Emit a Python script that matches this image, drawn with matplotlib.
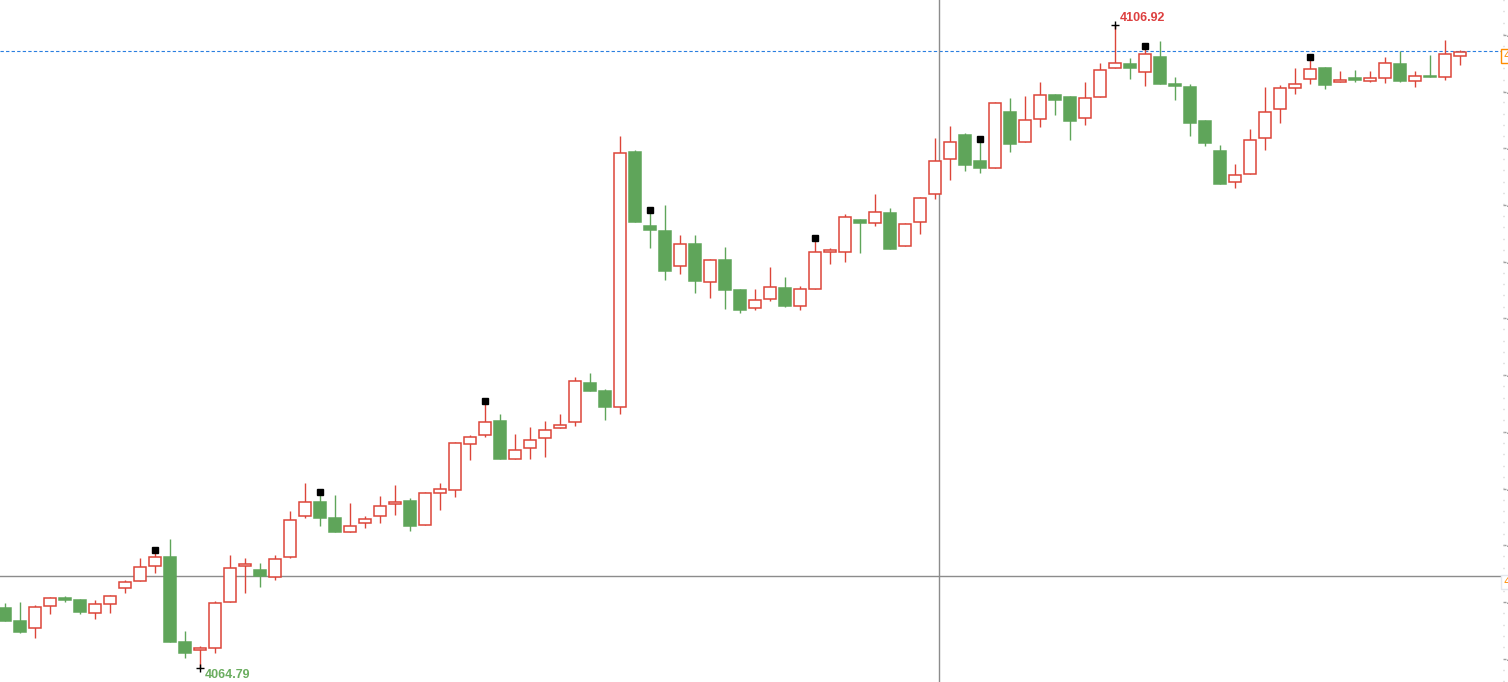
import matplotlib
matplotlib.use('Agg')
import matplotlib.pyplot as plt
from matplotlib.patches import Rectangle
from matplotlib.ticker import FixedLocator, AutoMinorLocator, FormatStrFormatter
from matplotlib.transforms import offset_copy

# OHLC, one entry per bar (left to right)
opens = [4068.72, 4067.87, 4067.41, 4068.85, 4069.38, 4069.25, 4068.39, 4068.98, 4070.03, 4070.49,
         4071.47, 4072.06, 4066.49, 4065.97, 4066.10, 4069.12, 4071.47, 4071.21, 4070.75, 4072.06,
         4074.75, 4075.67, 4074.62, 4073.70, 4074.29, 4074.75, 4075.54, 4075.73, 4074.16, 4076.26,
         4076.45, 4079.47, 4080.06, 4080.97, 4078.48, 4079.21, 4079.86, 4080.52, 4080.91, 4083.46,
         4082.94, 4081.89, 4098.60, 4093.75, 4093.42, 4091.13, 4092.57, 4090.08, 4091.52, 4089.56,
         4088.38, 4088.97, 4089.69, 4088.51, 4089.62, 4092.05, 4092.05, 4094.14, 4093.95, 4094.60,
         4092.44, 4094.01, 4095.85, 4098.14, 4099.71, 4098.01, 4097.55, 4101.22, 4099.25, 4100.76,
         4102.33, 4102.20, 4100.83, 4102.20, 4104.10, 4104.36, 4103.84, 4104.82, 4103.05, 4102.86,
         4100.63, 4098.66, 4096.63, 4097.16, 4099.52, 4101.42, 4102.79, 4103.38, 4104.10, 4103.19,
         4103.45, 4103.25, 4103.45, 4104.36, 4103.25, 4103.58, 4103.51, 4104.89]
highs = [4069.05, 4069.12, 4068.92, 4069.44, 4069.51, 4069.31, 4069.25, 4069.57, 4070.56, 4072.00,
         4072.33, 4073.24, 4067.22, 4066.23, 4069.18, 4072.19, 4072.00, 4071.67, 4072.19, 4075.08,
         4076.91, 4076.13, 4076.13, 4075.60, 4074.75, 4076.06, 4076.78, 4075.93, 4076.32, 4076.91,
         4079.60, 4080.06, 4082.09, 4081.43, 4080.12, 4080.58, 4080.97, 4081.43, 4083.86, 4084.12,
         4083.07, 4099.65, 4098.73, 4094.60, 4095.13, 4093.16, 4093.16, 4091.59, 4092.38, 4089.62,
         4089.62, 4091.06, 4090.41, 4089.82, 4092.77, 4092.31, 4094.54, 4094.21, 4095.85, 4094.93,
         4093.95, 4095.65, 4099.52, 4100.30, 4099.84, 4099.25, 4101.88, 4102.14, 4102.27, 4103.19,
         4102.40, 4102.27, 4103.19, 4104.43, 4106.92, 4104.76, 4105.35, 4105.87, 4103.51, 4103.05,
         4100.70, 4099.06, 4097.81, 4100.11, 4102.86, 4102.99, 4104.10, 4104.63, 4104.17, 4103.91,
         4103.97, 4103.91, 4104.82, 4105.22, 4103.91, 4104.95, 4105.94, 4105.28]
lows = [4067.87, 4067.08, 4066.76, 4068.33, 4069.12, 4068.33, 4068.00, 4068.39, 4069.71, 4070.49,
        4071.02, 4066.49, 4065.45, 4064.79, 4065.77, 4069.12, 4069.71, 4070.10, 4070.56, 4072.00,
        4074.62, 4074.09, 4073.70, 4073.70, 4073.96, 4074.29, 4074.82, 4073.77, 4074.16, 4075.14,
        4076.00, 4078.42, 4079.93, 4078.48, 4078.48, 4078.48, 4078.62, 4080.52, 4080.65, 4082.94,
        4081.04, 4081.43, 4094.01, 4092.31, 4090.21, 4090.61, 4089.36, 4089.03, 4088.31, 4088.05,
        4088.25, 4088.84, 4088.44, 4088.25, 4089.62, 4091.26, 4091.39, 4091.98, 4093.75, 4092.24,
        4092.44, 4093.23, 4095.52, 4096.76, 4097.35, 4097.22, 4097.55, 4098.60, 4099.25, 4100.24,
        4101.02, 4099.39, 4100.37, 4102.20, 4104.10, 4103.38, 4102.92, 4103.05, 4102.01, 4099.65,
        4098.99, 4096.50, 4096.24, 4097.16, 4098.73, 4100.50, 4102.40, 4103.05, 4102.73, 4103.19,
        4103.19, 4103.19, 4103.12, 4103.19, 4102.86, 4103.51, 4103.32, 4104.30]
closes = [4067.87, 4067.15, 4068.79, 4069.38, 4069.25, 4068.46, 4068.98, 4069.51, 4070.43, 4071.41,
          4072.06, 4066.49, 4065.77, 4066.10, 4069.05, 4071.34, 4071.54, 4070.82, 4071.93, 4074.49,
          4075.67, 4074.62, 4073.70, 4074.09, 4074.55, 4075.41, 4075.67, 4074.09, 4076.26, 4076.52,
          4079.53, 4079.93, 4080.91, 4078.48, 4079.07, 4079.73, 4080.38, 4080.71, 4083.60, 4082.94,
          4081.89, 4098.53, 4094.01, 4093.49, 4090.80, 4092.57, 4090.15, 4091.52, 4089.56, 4088.25,
          4088.90, 4089.75, 4088.51, 4089.62, 4092.05, 4092.18, 4094.34, 4093.95, 4094.67, 4092.24,
          4093.88, 4095.59, 4098.01, 4099.25, 4097.75, 4097.55, 4101.81, 4099.12, 4100.70, 4102.33,
          4102.01, 4100.63, 4102.14, 4103.97, 4104.43, 4104.10, 4105.02, 4103.05, 4102.92, 4100.50,
          4099.19, 4096.50, 4097.09, 4099.39, 4101.22, 4102.79, 4103.05, 4104.04, 4102.99, 4103.25,
          4103.32, 4103.45, 4104.43, 4103.25, 4103.58, 4103.51, 4105.02, 4105.15]

signal_bars = [10, 21, 32, 43, 54, 65, 76, 87]   # bars with a black square marker
y_ticks = [4065.40, 4069.12, 4072.83, 4076.54, 4080.26, 4083.97,
           4087.69, 4091.40, 4095.12, 4098.83, 4102.55, 4106.27]
bid_price = 4105.22
cross_x, cross_y = 62.27, 4070.82

UP = '#DC4539'
DOWN = '#5FA55A'

fig = plt.figure(figsize=(15.08, 6.82), dpi=100)
ax = fig.add_axes([0, 0, 1503 / 1508, 1])

for i, (o, h, l, c) in enumerate(zip(opens, highs, lows, closes)):
    up = c >= o
    col = UP if up else DOWN
    ax.vlines(i, l, h, color=col, lw=1, zorder=2)
    bottom = min(o, c)
    height = max(abs(c - o), 0.1)
    ax.add_patch(Rectangle((i - 0.42, bottom), 0.84, height,
                           facecolor='white' if up else col, edgecolor=col,
                           lw=1.1, zorder=3))

# black squares above signal bars
mark_tr = offset_copy(ax.transData, fig=fig, x=0, y=3, units='dots')
ax.plot(signal_bars, [highs[i] for i in signal_bars], 's', color='black',
        ms=4.4, transform=mark_tr, zorder=5)

# highest / lowest price markers
hi = max(range(len(highs)), key=lambda i: highs[i])
lo = min(range(len(lows)), key=lambda i: lows[i])
ax.plot([hi, lo], [highs[hi], lows[lo]], '+', color='black', ms=6, mew=1, zorder=5)
ax.annotate(f'{highs[hi]:.2f}', (hi, highs[hi]), xytext=(5, 7), textcoords='offset pixels',
            color='#DD4040', fontsize=9, fontweight='bold', family='Liberation Sans',
            ha='left', va='center')
ax.annotate(f'{lows[lo]:.2f}', (lo, lows[lo]), xytext=(5, -7), textcoords='offset pixels',
            color='#6AAD5F', fontsize=9, fontweight='bold', family='Liberation Sans',
            ha='left', va='center')

# bid line and crosshair
ax.axhline(bid_price, color='#2A7FE0', lw=0.8, ls=(0, (3, 2)), zorder=1)
ax.axvline(cross_x, color='#8C8C8C', lw=1, zorder=1)
ax.axhline(cross_y, color='#8C8C8C', lw=1, zorder=1)

ax.annotate(f'{bid_price:.2f}', (1, bid_price), xycoords=('axes fraction', 'data'),
            xytext=(0, 0), textcoords='offset pixels', ha='left', va='top',
            color='#FF8C00', fontsize=8, annotation_clip=False,
            bbox=dict(boxstyle='square,pad=0.2', fc='white', ec='#FF8C00', lw=1))
ax.annotate(f'{cross_y:.2f}', (1, cross_y), xycoords=('axes fraction', 'data'),
            xytext=(0, -1), textcoords='offset pixels', ha='left', va='top',
            color='#FF8C00', fontsize=8, annotation_clip=False,
            bbox=dict(boxstyle='square,pad=0.2', fc='white', ec='#E4E8EE', lw=1))

ax.set_xlim(-1 / 3, 99.87)
ax.set_ylim(4063.87, 4108.56)

for s in ax.spines.values():
    s.set_visible(False)
ax.set_xticks([])
ax.yaxis.set_major_locator(FixedLocator(y_ticks))
ax.yaxis.set_minor_locator(AutoMinorLocator(5))
ax.yaxis.set_major_formatter(FormatStrFormatter('%.2f'))
ax.tick_params(axis='y', which='both', left=False, labelleft=False,
               right=True, labelright=True, direction='out')
ax.tick_params(axis='y', which='major', length=2.5, width=1, color='#A0A0A0',
               pad=0, labelsize=8, labelcolor='#222222')
ax.tick_params(axis='y', which='minor', length=1, width=1, color='#C8C8C8')

fig.savefig('out.png', dpi=100, facecolor='white')
